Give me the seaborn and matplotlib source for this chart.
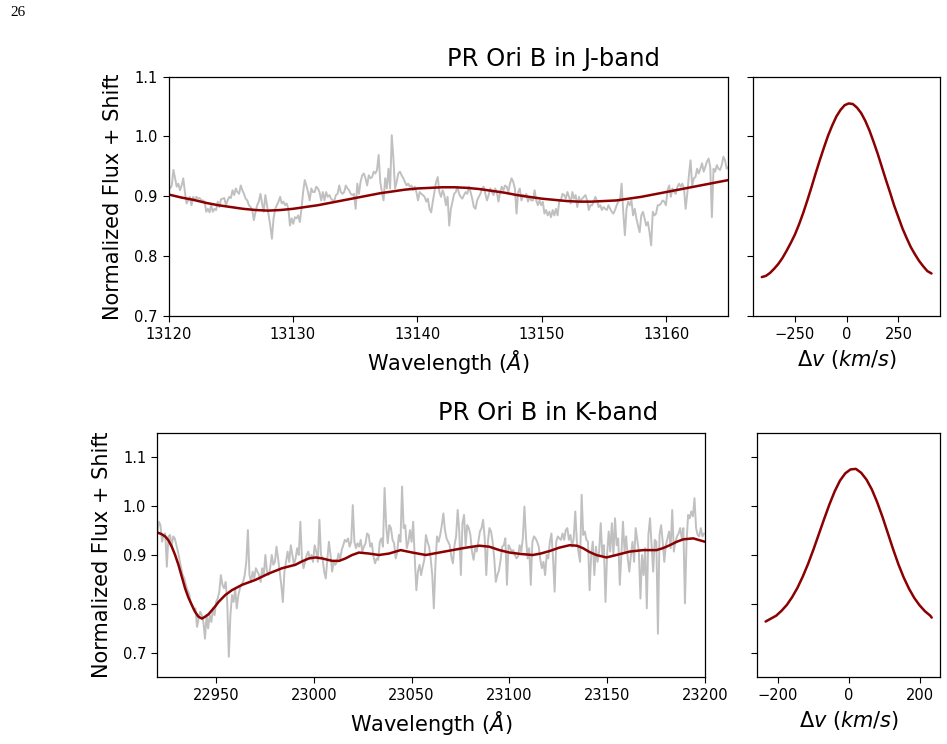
import numpy as np
import pandas as pd
import matplotlib
matplotlib.use("Agg")
import matplotlib.pyplot as plt
import seaborn as sns

sns.set_style("ticks", {"axes.edgecolor": "black", "xtick.color": "black",
                        "ytick.color": "black", "text.color": "black",
                        "axes.labelcolor": "black", "xtick.direction": "out",
                        "ytick.direction": "out"})
plt.rcParams['font.family'] = ['DejaVu Sans']

# ---------------- J band ----------------
J_WAVE_START, J_WAVE_END = 13120.0, 13165.0
j_flux = [
    0.916, 0.913, 0.918, 0.944, 0.930, 0.916, 0.921, 0.910, 0.918, 0.930,
    0.907, 0.888, 0.893, 0.899, 0.885, 0.899, 0.893, 0.899, 0.896, 0.897,
    0.893, 0.893, 0.891, 0.874, 0.879, 0.873, 0.885, 0.874, 0.879, 0.877,
    0.891, 0.882, 0.895, 0.896, 0.897, 0.885, 0.893, 0.899, 0.897, 0.910,
    0.902, 0.913, 0.907, 0.904, 0.918, 0.910, 0.904, 0.896, 0.893, 0.885,
    0.882, 0.877, 0.860, 0.874, 0.885, 0.891, 0.904, 0.888, 0.874, 0.902,
    0.885, 0.868, 0.851, 0.829, 0.863, 0.879, 0.885, 0.891, 0.899, 0.888,
    0.891, 0.885, 0.888, 0.879, 0.851, 0.863, 0.854, 0.865, 0.863, 0.868,
    0.857, 0.879, 0.907, 0.927, 0.918, 0.907, 0.893, 0.913, 0.907, 0.907,
    0.916, 0.913, 0.907, 0.893, 0.907, 0.893, 0.907, 0.899, 0.902, 0.896,
    0.893, 0.893, 0.902, 0.904, 0.918, 0.907, 0.904, 0.907, 0.918, 0.913,
    0.910, 0.904, 0.902, 0.904,
    0.879, 0.921, 0.904, 0.924, 0.935, 0.938, 0.930, 0.918, 0.935, 0.930,
    0.932, 0.941, 0.938, 0.944, 0.969, 0.924, 0.907, 0.893, 0.930, 0.913,
    0.946, 0.913, 1.002, 0.963, 0.913, 0.924, 0.938, 0.941, 0.935, 0.930,
    0.924, 0.918, 0.921, 0.916, 0.918, 0.910, 0.916, 0.907, 0.893, 0.907,
    0.904, 0.902, 0.899, 0.891, 0.896, 0.879, 0.873, 0.891, 0.907, 0.924,
    0.932, 0.907, 0.899, 0.910, 0.902, 0.885, 0.899, 0.851, 0.879, 0.891,
    0.904, 0.907, 0.916, 0.904, 0.899, 0.896, 0.902, 0.907, 0.904, 0.916,
    0.907, 0.896, 0.882, 0.879, 0.893, 0.899, 0.904, 0.913, 0.916, 0.904,
    0.893, 0.902, 0.913, 0.907, 0.902, 0.913, 0.907, 0.891, 0.907, 0.916,
    0.910, 0.918, 0.916, 0.907, 0.921, 0.930, 0.924, 0.913, 0.871, 0.907,
    0.913, 0.893, 0.902, 0.899, 0.904, 0.891, 0.899, 0.893, 0.893, 0.910,
    0.893, 0.885,
    0.893, 0.885, 0.891, 0.871, 0.877, 0.868, 0.874, 0.865, 0.877, 0.868,
    0.879, 0.868, 0.891, 0.893, 0.904, 0.902, 0.896, 0.907, 0.899, 0.888,
    0.907, 0.896, 0.902, 0.882, 0.899, 0.891, 0.896, 0.899, 0.902, 0.893,
    0.877, 0.885, 0.885, 0.891, 0.899, 0.893, 0.882, 0.885, 0.877, 0.882,
    0.879, 0.877, 0.885, 0.879, 0.874, 0.871, 0.877, 0.885, 0.891, 0.893,
    0.921, 0.874, 0.835, 0.879, 0.891, 0.885, 0.893, 0.868, 0.879, 0.863,
    0.851, 0.840, 0.868, 0.874, 0.863, 0.851, 0.857, 0.840, 0.818, 0.874,
    0.868, 0.871, 0.885, 0.885, 0.888, 0.893, 0.891, 0.885, 0.910, 0.918,
    0.899, 0.913, 0.907, 0.904, 0.916, 0.921, 0.916, 0.921, 0.913, 0.879,
    0.904, 0.935, 0.960, 0.918, 0.930, 0.932, 0.946, 0.938, 0.946, 0.955,
    0.941, 0.949, 0.958, 0.963, 0.949, 0.865, 0.946, 0.941, 0.952, 0.946,
    0.944, 0.952, 0.966, 0.960, 0.946, 0.949,
]
j_model_wave = [13120, 13121, 13122, 13123, 13124, 13125, 13126, 13127, 13128,
                13129, 13130, 13131, 13132, 13133, 13134, 13135, 13136, 13137,
                13138, 13139, 13140, 13141, 13142, 13143, 13144, 13145, 13146,
                13147, 13148, 13149, 13150, 13151, 13152, 13153, 13154, 13155,
                13156, 13157, 13158, 13159, 13160, 13161, 13162, 13163, 13164,
                13165]
j_model_flux = [0.903, 0.898, 0.894, 0.889, 0.885, 0.882, 0.879, 0.877, 0.876,
                0.877, 0.879, 0.882, 0.885, 0.889, 0.893, 0.897, 0.901, 0.905,
                0.908, 0.911, 0.913, 0.914, 0.915, 0.915, 0.914, 0.912, 0.909,
                0.906, 0.902, 0.899, 0.896, 0.894, 0.892, 0.891, 0.891, 0.892,
                0.893, 0.896, 0.899, 0.903, 0.907, 0.911, 0.915, 0.919, 0.923,
                0.927]
j_kernel_v = [-410, -390, -370, -350, -330, -310, -290, -270, -250, -230, -210,
              -190, -170, -150, -130, -110, -90, -70, -50, -30, -10, 10, 30,
              50, 70, 90, 110, 130, 150, 170, 190, 210, 230, 250, 270, 290,
              310, 330, 350, 370, 390, 410]
j_kernel_flux = [0.765, 0.767, 0.772, 0.779, 0.787, 0.797, 0.809, 0.822, 0.836,
                 0.853, 0.872, 0.893, 0.915, 0.938, 0.960, 0.981, 1.001, 1.018,
                 1.033, 1.044, 1.052, 1.055, 1.054, 1.048, 1.039, 1.026, 1.010,
                 0.991, 0.971, 0.949, 0.927, 0.906, 0.884, 0.865, 0.846, 0.830,
                 0.815, 0.803, 0.792, 0.783, 0.775, 0.771]

# ---------------- K band ----------------
K_WAVE_START, K_WAVE_END = 22920.0, 23199.5
k_flux = [
    0.944, 0.968, 0.961, 0.927, 0.941, 0.944, 0.876, 0.938, 0.941, 0.917,
    0.938, 0.934, 0.920, 0.907, 0.890, 0.873, 0.859, 0.852, 0.839, 0.828,
    0.821, 0.804, 0.798, 0.787, 0.791, 0.753, 0.770, 0.784, 0.777, 0.763,
    0.729, 0.777, 0.750, 0.777, 0.763, 0.791, 0.777, 0.804, 0.811, 0.825,
    0.859, 0.839, 0.832, 0.845, 0.804, 0.692, 0.777, 0.818, 0.804, 0.832,
    0.791, 0.818, 0.832, 0.839, 0.845, 0.859, 0.886, 0.951, 0.859, 0.845,
    0.866, 0.852, 0.873, 0.866, 0.859, 0.845, 0.873, 0.859, 0.900, 0.866,
    0.859, 0.873, 0.900, 0.880, 0.886, 0.917, 0.893, 0.866, 0.839, 0.804,
    0.866, 0.886, 0.907, 0.886, 0.920, 0.900, 0.880, 0.893, 0.914, 0.900,
    0.968, 0.893, 0.873, 0.886, 0.900, 0.907, 0.893, 0.900, 0.886, 0.920,
    0.907, 0.886, 0.972, 0.900, 0.893, 0.866, 0.852, 0.893, 0.927, 0.900,
    0.866, 0.886, 0.880, 0.886, 0.903,
    0.890, 0.910, 0.920, 0.931, 0.927, 0.934, 0.917, 0.927, 1.002, 0.927,
    0.914, 0.924, 0.917, 0.931, 0.907, 0.917, 0.924, 0.944, 0.941, 0.917,
    0.924, 0.897, 0.883, 0.893, 0.890, 0.927, 0.934, 0.917, 1.037, 0.961,
    0.924, 0.961, 0.955, 0.931, 0.924, 0.893, 0.907, 0.941, 0.927, 1.040,
    0.955, 0.961, 0.914, 0.927, 0.951, 0.927, 0.968, 0.893, 0.828, 0.866,
    0.880, 0.859, 0.876, 0.890, 0.941, 0.927, 0.917, 0.893, 0.859, 0.791,
    0.880, 0.938, 0.927, 0.941, 0.961, 0.985, 0.951, 0.934, 0.927, 0.920,
    0.897, 0.883, 0.920, 0.938, 0.992, 0.948, 0.859, 0.965, 0.982, 0.920,
    0.961, 0.955, 0.941, 0.907, 0.890, 0.914, 0.907, 0.927, 0.948, 0.955,
    0.972, 0.934, 0.859, 0.927, 0.955, 0.948, 0.927, 0.893, 0.845, 0.859,
    0.869, 0.890, 0.917, 0.920, 0.934, 0.839, 0.920, 0.914, 0.907, 0.910,
    0.900, 0.893, 0.897,
    0.920, 0.907, 0.934, 0.999, 0.934, 0.893, 0.914, 0.839, 0.927, 0.938,
    0.934, 0.927, 0.917, 0.890, 0.873, 0.886, 0.859, 0.900, 0.893, 0.927,
    0.944, 0.893, 0.825, 0.927, 0.938, 0.934, 0.931, 0.944, 0.931, 0.951,
    0.955, 0.931, 0.941, 0.917, 0.934, 0.989, 0.927, 0.907, 0.886, 1.023,
    0.941, 0.948, 0.931, 0.927, 0.828, 0.900, 0.927, 0.859, 0.917, 0.886,
    0.907, 0.965, 0.900, 0.920, 0.804, 0.900, 0.948, 0.907, 0.965, 0.900,
    0.975, 0.920, 0.934, 0.839, 0.900, 0.968, 0.907, 0.938, 0.893, 0.866,
    0.900, 0.927, 0.886, 0.955, 0.931, 0.907, 0.811, 0.900, 0.859, 0.914,
    0.791, 0.941, 0.975, 0.920, 0.866, 0.931, 0.927, 0.739, 0.941, 0.961,
    0.927, 0.886, 0.920, 0.934, 0.948, 0.914, 0.992, 0.907, 0.927, 0.938,
    0.944, 0.955, 0.934, 0.955, 0.801, 0.927, 0.982, 0.975, 0.989, 0.979,
    1.016, 0.955, 0.941, 0.938, 0.955, 0.938, 0.944,
]
k_model_wave = [22920.0, 22922.0, 22924.0, 22925.7, 22927.4, 22929.1, 22930.8,
                22932.5, 22934.2, 22935.9, 22937.6, 22939.3, 22941.0, 22942.8,
                22944.5, 22946.2, 22947.9, 22949.6, 22951.3, 22954.7, 22958.1,
                22963.3, 22970.1, 22976.9, 22983.8, 22990.6, 22994.0, 22997.5,
                23000.9, 23004.3, 23009.4, 23013.0, 23016.2, 23019.6, 23023.1,
                23028.2, 23033.3, 23038.5, 23044.4, 23050.4, 23057.3, 23064.1,
                23070.9, 23077.8, 23084.6, 23089.7, 23094.9, 23100.0, 23106.0,
                23111.9, 23116.0, 23120.5, 23125.5, 23130.8, 23134.5, 23137.6,
                23141.0, 23144.4, 23149.6, 23154.7, 23161.5, 23168.4, 23175.2,
                23178.5, 23182.0, 23185.5, 23188.9, 23194.0, 23200.0]
k_model_flux = [0.946, 0.943, 0.938, 0.930, 0.917, 0.900, 0.880, 0.856, 0.832,
                0.813, 0.798, 0.784, 0.774, 0.770, 0.774, 0.779, 0.787, 0.795,
                0.804, 0.818, 0.828, 0.839, 0.849, 0.862, 0.873, 0.880, 0.887,
                0.893, 0.895, 0.893, 0.888, 0.888, 0.893, 0.900, 0.905, 0.903,
                0.900, 0.903, 0.910, 0.905, 0.900, 0.905, 0.910, 0.915, 0.919,
                0.917, 0.910, 0.905, 0.902, 0.900, 0.903, 0.908, 0.915, 0.920,
                0.919, 0.914, 0.906, 0.900, 0.895, 0.900, 0.907, 0.910, 0.910,
                0.914, 0.920, 0.927, 0.932, 0.934, 0.927]
k_kernel_v = [-235, -220, -205, -190, -175, -160, -145, -130, -115, -100, -85,
              -70, -55, -40, -25, -10, 5, 20, 35, 50, 65, 80, 95, 110, 125,
              140, 155, 170, 185, 200, 215, 230, 234]
k_kernel_flux = [0.764, 0.770, 0.776, 0.786, 0.798, 0.814, 0.833, 0.856, 0.882,
                 0.911, 0.942, 0.973, 1.003, 1.030, 1.052, 1.067, 1.075, 1.076,
                 1.068, 1.054, 1.034, 1.008, 0.978, 0.945, 0.912, 0.881, 0.854,
                 0.831, 0.812, 0.797, 0.785, 0.776, 0.772]

j_ticks = [13120, 13130, 13140, 13150, 13160]
k_ticks = [22950, 23000, 23050, 23100, 23150, 23200]
flux_ticks = [0.7, 0.8, 0.9, 1.0, 1.1]

GRAY = "#c0c0c0"
RED = "#8b0000"
W, H = 947, 744

fig = plt.figure(figsize=(W / 100, H / 100), dpi=100)


def box(x0, y0, x1, y1):
    return [x0 / W, 1 - y1 / H, (x1 - x0) / W, (y1 - y0) / H]


ax_j = fig.add_axes(box(168.5, 76.5, 728.3, 316.0))
ax_jk = fig.add_axes(box(753.3, 76.5, 940.0, 316.0), sharey=ax_j)
ax_k = fig.add_axes(box(157.3, 432.7, 705.0, 677.3))
ax_kk = fig.add_axes(box(757.3, 432.7, 940.0, 677.3), sharey=ax_k)

j_df = pd.DataFrame({"wave": np.linspace(J_WAVE_START, J_WAVE_END, len(j_flux)),
                     "flux": j_flux})
k_df = pd.DataFrame({"wave": np.linspace(K_WAVE_START, K_WAVE_END, len(k_flux)),
                     "flux": k_flux})

GRAY_LW = 1.4
RED_LW = 1.8

sns.lineplot(data=j_df, x="wave", y="flux", ax=ax_j, color=GRAY, lw=GRAY_LW,
             estimator=None, sort=False)
sns.lineplot(x=j_model_wave, y=j_model_flux, ax=ax_j, color=RED, lw=RED_LW,
             estimator=None, sort=False)
sns.lineplot(x=j_kernel_v, y=j_kernel_flux, ax=ax_jk, color=RED, lw=RED_LW,
             estimator=None, sort=False)

sns.lineplot(data=k_df, x="wave", y="flux", ax=ax_k, color=GRAY, lw=GRAY_LW,
             estimator=None, sort=False)
sns.lineplot(x=k_model_wave, y=k_model_flux, ax=ax_k, color=RED, lw=RED_LW,
             estimator=None, sort=False)
sns.lineplot(x=k_kernel_v, y=k_kernel_flux, ax=ax_kk, color=RED, lw=RED_LW,
             estimator=None, sort=False)

LABEL_FS = 15
TICK_FS = 10.5

ax_j.set_xlim(13120, 13165)
ax_j.set_ylim(0.7, 1.1)
ax_j.set_xticks(j_ticks)
ax_j.set_yticks(flux_ticks)
ax_j.set_xlabel(r"Wavelength ($\AA$)", fontsize=LABEL_FS)
ax_j.set_ylabel("Normalized Flux + Shift", fontsize=LABEL_FS, labelpad=8)

ax_jk.set_xticks([-250, 0, 250])
ax_jk.set_xlabel(r"$\Delta v$ $(km/s)$", fontsize=LABEL_FS)
ax_jk.set_ylabel("")
ax_jk.tick_params(labelleft=False)

ax_k.set_xlim(22920, 23200)
ax_k.set_ylim(0.65, 1.15)
ax_k.set_xticks(k_ticks)
ax_k.set_yticks(flux_ticks)
ax_k.set_xlabel(r"Wavelength ($\AA$)", fontsize=LABEL_FS)
ax_k.set_ylabel("Normalized Flux + Shift", fontsize=LABEL_FS, labelpad=8)

ax_kk.set_xticks([-200, 0, 200])
ax_kk.set_xlabel(r"$\Delta v$ $(km/s)$", fontsize=LABEL_FS)
ax_kk.set_ylabel("")
ax_kk.tick_params(labelleft=False)

for ax in (ax_j, ax_jk, ax_k, ax_kk):
    ax.tick_params(labelsize=TICK_FS, length=4.5, width=0.8)
    for s in ax.spines.values():
        s.set_visible(True)
        s.set_linewidth(0.9)
        s.set_color("black")

fig.text(553 / W, 1 - 59 / H, "PR Ori B in J-band", ha="center", va="center",
         fontsize=17.5)
fig.text(548 / W, 1 - 413 / H, "PR Ori B in K-band", ha="center", va="center",
         fontsize=17.5)
fig.text(18 / W, 1 - 13 / H, "26", ha="center", va="center", fontsize=11,
         family=["Liberation Serif", "DejaVu Serif"])

fig.savefig("out.png", dpi=100)
